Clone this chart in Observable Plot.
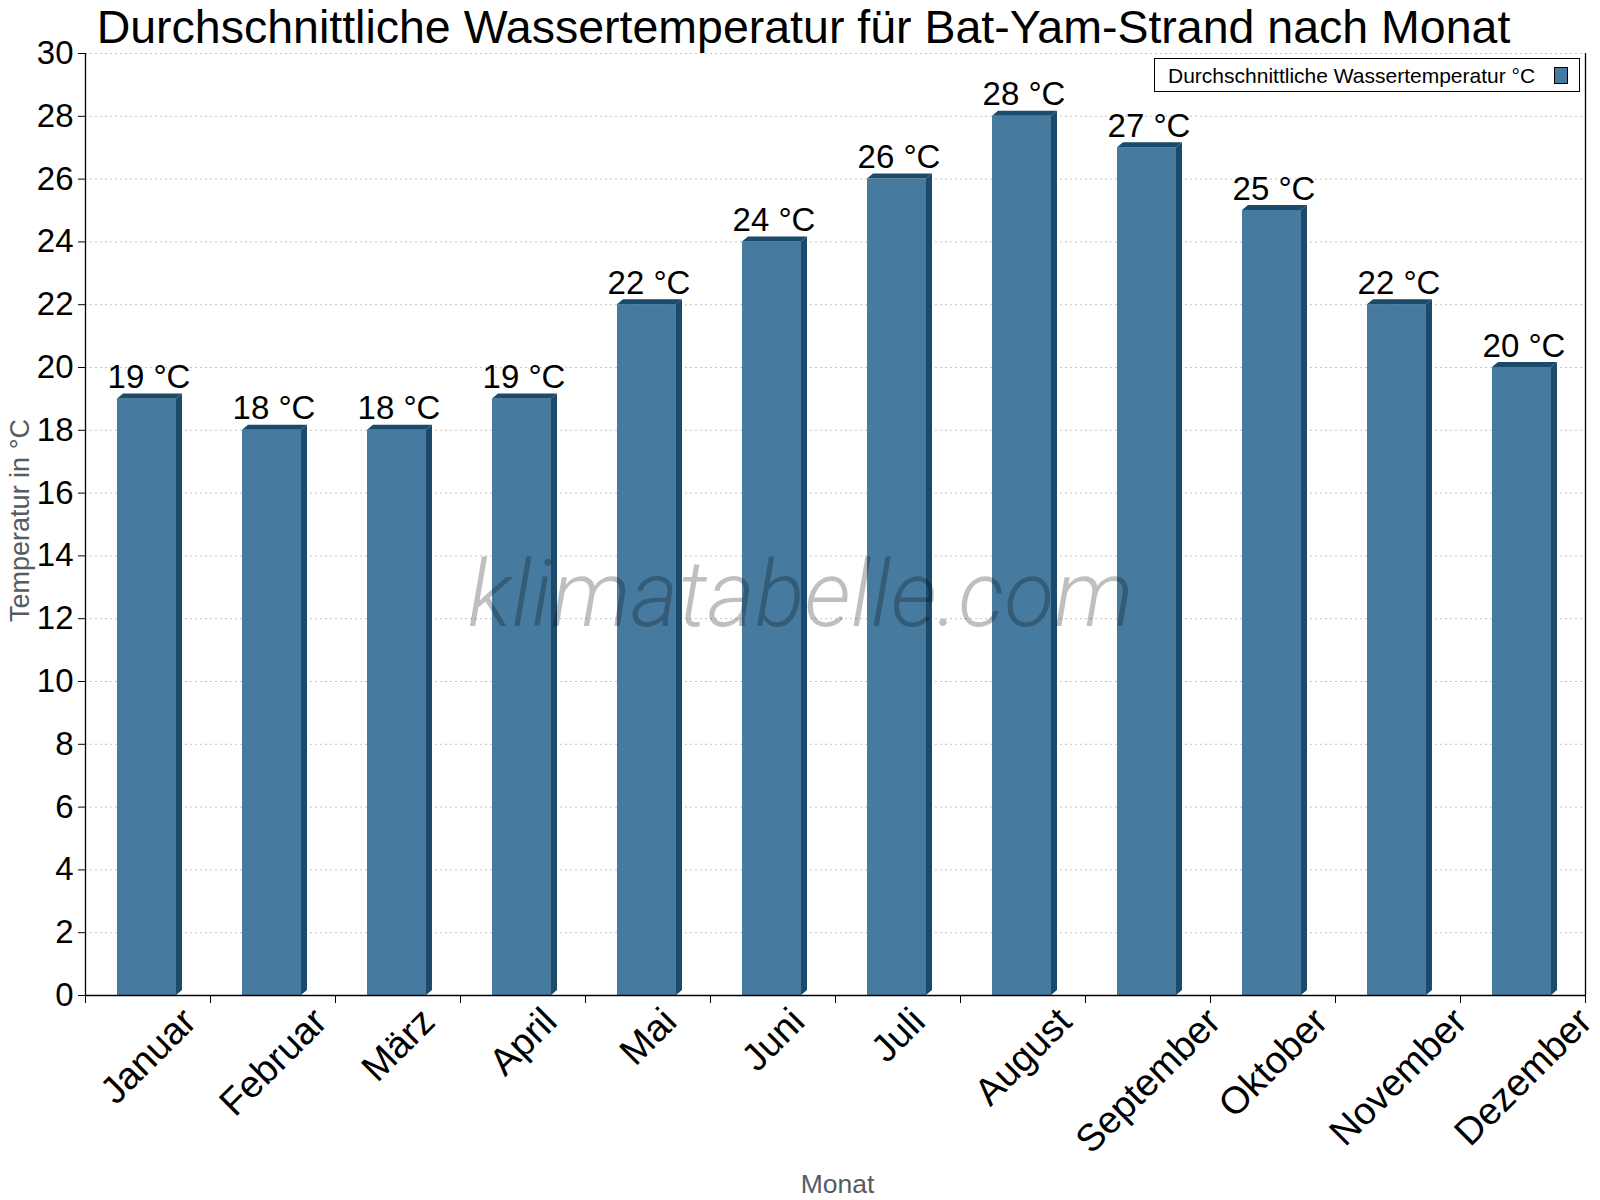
<!DOCTYPE html>
<html>
<head>
<meta charset="utf-8">
<script src="https://cdn.jsdelivr.net/npm/d3@7"></script>
<script src="https://cdn.jsdelivr.net/npm/@observablehq/plot@0.6"></script>
<style>
  html, body { margin: 0; padding: 0; background: #fff; }
  #wrap { position: relative; width: 1600px; height: 1200px; font-family: "Liberation Sans", Arial, sans-serif; }
  #title { position: absolute; left: 0; width: 1607px; top: 0px; text-align: center; font-size: 46.5px; line-height: 54px; color: #000; white-space: nowrap; }
  #legend { position: absolute; left: 1154px; top: 58px; width: 424px; height: 32px; border: 1.5px solid #000; background: #fff; box-sizing: content-box; }
  #legend .lt { position: absolute; left: 13px; top: 5px; font-size: 21px; line-height: 24px; color: #000; white-space: nowrap; }
  #legend .sw { position: absolute; left: 399px; top: 8px; width: 12px; height: 15px; border: 1px solid #000; }
  #chart { position: absolute; left: 0; top: 0; }
</style>
</head>
<body>
<div id="wrap">
  <div id="chart"></div>
  <div id="title">Durchschnittliche Wassertemperatur für Bat-Yam-Strand nach Monat</div>
  <div id="legend"><span class="lt">Durchschnittliche Wassertemperatur °C</span><span class="sw"></span></div>
</div>
<script>
const months = ["Januar", "Februar", "März", "April", "Mai", "Juni", "Juli", "August", "September", "Oktober", "November", "Dezember"];
const temps = [19, 18, 18, 19, 22, 24, 26, 28, 27, 25, 22, 20];
const yTicks = [0, 2, 4, 6, 8, 10, 12, 14, 16, 18, 20, 22, 24, 26, 28, 30];
const unit = "°C";
const yTitle = "Temperatur in °C";
const xTitle = "Monat";
const watermark = "klimatabelle.com";

const frontColor = "#467b9f";
const darkColor = "#1b4a6b";
document.querySelector("#legend .sw").style.background = frontColor;

const data = months.map((m, i) => ({month: m, temp: temps[i]}));
const monthFont = 38;

const chart = Plot.plot({
  width: 1600,
  height: 1200,
  marginLeft: 85,
  marginRight: 15,
  marginTop: 53,
  marginBottom: 205,
  style: {fontFamily: "'Liberation Sans', Arial, sans-serif", background: "transparent", color: "#000", overflow: "visible"},
  x: {domain: months, padding: 0, label: null, axis: null},
  y: {domain: [0, 30], label: null, axis: null},
  marks: [
    Plot.gridY(yTicks, {stroke: "#c4c4c4", strokeOpacity: 1, strokeWidth: 1, strokeDasharray: "2,3"}),
    Plot.rectY(data, {x: "month", y: "temp", fill: frontColor, insetLeft: 32, insetRight: 34}),
    Plot.text(data, {x: "month", y: "temp", text: d => `${d.temp} ${unit}`, lineAnchor: "bottom", dy: -11, dx: 1, fontSize: 33, fill: "#000"}),
    Plot.ruleY([0], {stroke: "#000", strokeWidth: 1.3}),
    Plot.ruleX([months[0]], {dx: -62.5, stroke: "#000", strokeWidth: 1.3}),
    Plot.ruleX([months[months.length - 1]], {dx: 62.5, stroke: "#000", strokeWidth: 1.3}),
    Plot.axisY(yTicks, {tickSize: 7, tickPadding: 5, fontSize: 33, tickFormat: d => String(d), label: null, stroke: "#000"}),
    Plot.axisX(months, {tickSize: 8, tickFormat: () => "", dx: 62.5, label: null, stroke: "#000"}),
    Plot.axisX([months[0]], {tickSize: 8, tickFormat: () => "", dx: -62.5, label: null, stroke: "#000"}),
    Plot.text(months, {x: d => d, frameAnchor: "bottom", rotate: -45, fontSize: monthFont, fill: "#000"}),
    Plot.text([yTitle], {frameAnchor: "left", textAnchor: "middle", rotate: -90, dx: -65, dy: -4, fontSize: 27, fill: "#555b61"}),
    Plot.text([xTitle], {frameAnchor: "bottom", dy: 197, dx: 2, fontSize: 26.5, fill: "#555b61"}),
    Plot.text([watermark], {frameAnchor: "middle", dx: -35, dy: 72, fontSize: 92, fontStyle: "italic", fontWeight: 300, fontFamily: "Roboto", fill: "#000", fillOpacity: 0.25})
  ]
});

document.getElementById("chart").appendChild(chart);

// 3D faces for the bars, derived from the rendered rects
const svg = d3.select(chart);
const depthX = 6, depthY = 5;
const barGroups = svg.selectAll("g").filter(function() {
  return (this.getAttribute("fill") || "").toLowerCase() === frontColor;
});
let barRects = barGroups.selectAll("rect");
if (barRects.empty()) {
  barRects = svg.selectAll("rect").filter(function() {
    return (this.getAttribute("fill") || "").toLowerCase() === frontColor;
  });
}
barRects.each(function() {
  const r = d3.select(this);
  const x = +r.attr("x"), y = +r.attr("y"), w = +r.attr("width"), h = +r.attr("height");
  const g = d3.select(this.parentNode);
  g.append("polygon")
    .attr("points", [[x, y], [x + depthX, y - depthY], [x + w + depthX, y - depthY], [x + w, y]].map(p => p.join(",")).join(" "))
    .attr("fill", darkColor);
  g.append("polygon")
    .attr("points", [[x + w, y], [x + w + depthX, y - depthY], [x + w + depthX, y + h - depthY], [x + w, y + h]].map(p => p.join(",")).join(" "))
    .attr("fill", darkColor);
});

// Place rotated month labels so their rotated box hangs centered under each band.
// The text group already carries Plot's half-band offset, so remove it here.
const xs = chart.scale("x");
const c = Math.SQRT1_2;
svg.selectAll("text").filter(function() {
  return months.includes(this.textContent);
}).each(function() {
  const t = d3.select(this);
  const L = this.getComputedTextLength();
  const m = this.textContent;
  const gt = this.parentNode.getAttribute("transform") || "";
  const match = /translate\(\s*([-\d.e]+)/.exec(gt);
  const groupDx = match ? +match[1] : 0;
  const cx = xs.apply(m) + xs.bandwidth / 2 - groupDx;
  const px = cx + 0.25 * monthFont;
  const py = 1004 + c * (L / 2 + 0.72 * monthFont);
  t.attr("x", null).attr("y", null).attr("dy", null)
   .attr("text-anchor", "middle")
   .attr("transform", `translate(${px},${py}) rotate(-45)`);
});
</script>
</body>
</html>
